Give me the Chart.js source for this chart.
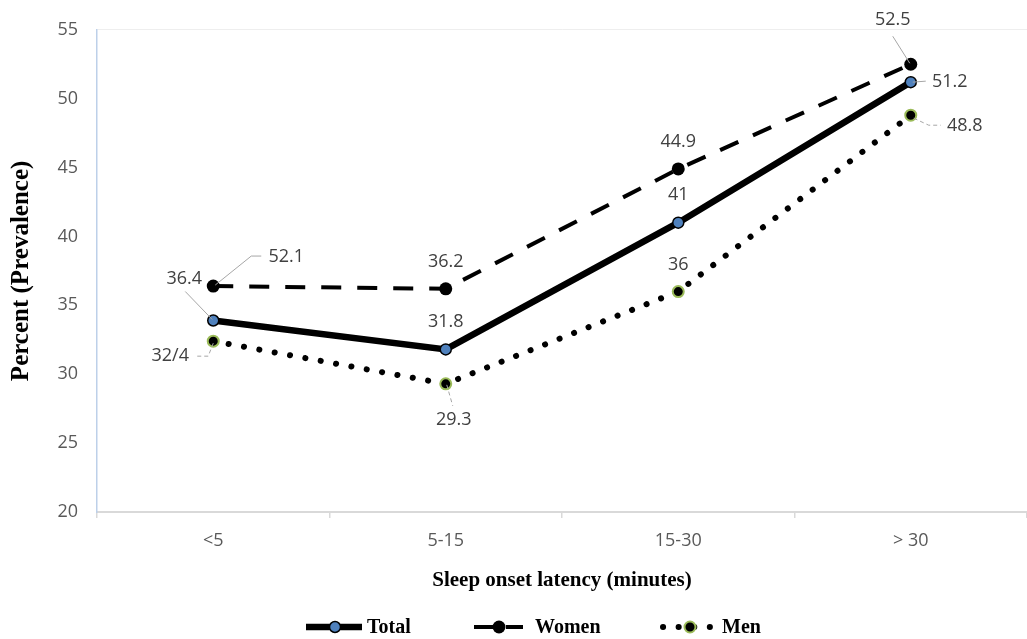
<!DOCTYPE html>
<html>
<head>
<meta charset="utf-8">
<script src="https://cdn.jsdelivr.net/npm/chart.js@4.4.1/dist/chart.umd.min.js"></script>
<style>
  html, body { margin: 0; padding: 0; background: #fff; }
  #myChart { display: block; }
</style>
</head>
<body>
<canvas id="myChart" width="1027" height="639"></canvas>
<script>
// data
var categories = ["<5", "5-15", "15-30", "> 30"];
var seriesNames = ["Total", "Women", "Men"];
var totalValues = [33.9, 31.8, 41, 51.2];
var womenValues = [36.4, 36.2, 44.9, 52.5];
var menValues = [32.4, 29.3, 36, 48.8];
// labels as printed on the chart (some don't match the point)
var totalLabels = ["36.4", "31.8", "41", "51.2"];
var womenLabels = ["52.1", "36.2", "44.9", "52.5"];
var menLabels = ["32/4", "29.3", "36", "48.8"];
var yTicks = [20, 25, 30, 35, 40, 45, 50, 55];

var tickFont = { family: "'Open Sans', sans-serif", size: 18 };
var serifBold = "'Liberation Serif', 'Times New Roman', serif";

// where each label sits relative to its point, plus leader lines
var labelSpots = [
  [ {dx:-29, dy:-42, lead:[[-28,-29],[-1,-1]]}, {dx:0, dy:-28}, {dx:0, dy:-28}, {dx:39, dy:0, lead:[[2,0],[15,-1]]} ],
  [ {dx:73, dy:-29, lead:[[2,-1],[38,-30],[48,-30]]}, {dx:0, dy:-27}, {dx:0, dy:-27}, {dx:-18, dy:-44, lead:[[-18,-28],[-1,-1]]} ],
  [ {dx:-43, dy:15, lead:[[-16,15],[-5,15],[0,2]], dash:true}, {dx:8, dy:36, lead:[[1,1],[7,22]], dash:true},
    {dx:0, dy:-27}, {dx:54, dy:11, lead:[[3,3],[18,10],[30,10]], dash:true} ]
];
var allLabels = [totalLabels, womenLabels, menLabels];

var pointLabels = {
  id: "pointLabels",
  afterDatasetsDraw: function(chart) {
    var ctx = chart.ctx;
    ctx.save();
    ctx.font = "18px 'Open Sans', sans-serif";
    ctx.fillStyle = "#404040";
    ctx.textAlign = "center";
    ctx.textBaseline = "middle";
    for (var i = 0; i < chart.data.datasets.length; i++) {
      var meta = chart.getDatasetMeta(i);
      meta.data.forEach(function(pt, j) {
        var s = labelSpots[i][j];
        if (s.lead) {
          ctx.beginPath();
          ctx.strokeStyle = "#a6a6a6";
          ctx.lineWidth = 1;
          ctx.setLineDash(s.dash ? [4, 3] : []);
          s.lead.forEach(function(p, k) {
            if (k == 0) ctx.moveTo(pt.x + p[0], pt.y + p[1]);
            else ctx.lineTo(pt.x + p[0], pt.y + p[1]);
          });
          ctx.stroke();
          ctx.setLineDash([]);
        }
        ctx.fillText(allLabels[i][j], pt.x + s.dx, pt.y + s.dy);
      });
    }
    ctx.restore();
  }
};

// legend drawn by hand so the line samples look like the original
var legendSpots = [
  { x1: 306, x2: 362, mx: 335, tx: 367 },
  { x1: 474, x2: 523, mx: 499, tx: 535 },
  { x1: 663, x2: 710, mx: 690, tx: 722 }
];
var bottomLegend = {
  id: "bottomLegend",
  afterDraw: function(chart) {
    var ctx = chart.ctx;
    var y = 627;
    ctx.save();
    chart.data.datasets.forEach(function(ds, i) {
      var L = legendSpots[i];
      ctx.beginPath();
      ctx.strokeStyle = ds.borderColor;
      ctx.lineWidth = ds.borderWidth;
      ctx.lineCap = ds.borderCapStyle || "butt";
      ctx.setLineDash(i == 1 ? [19, 13] : (ds.borderDash || []));
      ctx.moveTo(L.x1, y);
      ctx.lineTo(L.x2, y);
      ctx.stroke();
      ctx.setLineDash([]);
      ctx.beginPath();
      ctx.arc(L.mx, y, ds.pointRadius, 0, Math.PI * 2);
      ctx.fillStyle = ds.pointBackgroundColor;
      ctx.fill();
      if (ds.pointBorderWidth) {
        ctx.lineWidth = ds.pointBorderWidth;
        ctx.strokeStyle = ds.pointBorderColor;
        ctx.stroke();
      }
      ctx.fillStyle = "#000";
      ctx.font = "bold 20px " + serifBold;
      ctx.textAlign = "left";
      ctx.textBaseline = "middle";
      ctx.fillText(ds.label, L.tx, y + 1);
    });
    ctx.restore();
  }
};

new Chart("myChart", {
  type: "line",
  data: {
    labels: categories,
    datasets: [
      {
        label: seriesNames[0],
        data: totalValues,
        borderColor: "#000",
        borderWidth: 6.5,
        pointRadius: 5.5,
        pointBackgroundColor: "#4f81bd",
        pointBorderColor: "#000",
        pointBorderWidth: 1.5,
        tension: 0
      },
      {
        label: seriesNames[1],
        data: womenValues,
        borderColor: "#000",
        borderWidth: 4,
        borderDash: [20, 16],
        pointRadius: 6.5,
        pointBackgroundColor: "#000",
        pointBorderColor: "#000",
        pointBorderWidth: 0,
        tension: 0
      },
      {
        label: seriesNames[2],
        data: menValues,
        borderColor: "#000",
        borderWidth: 6,
        borderDash: [0.1, 15.5],
        borderCapStyle: "round",
        pointRadius: 5.5,
        pointBackgroundColor: "#000",
        pointBorderColor: "#9bbb59",
        pointBorderWidth: 2,
        tension: 0
      }
    ]
  },
  options: {
    responsive: false,
    animation: false,
    devicePixelRatio: 1,
    layout: { autoPadding: false, padding: { top: 23, right: 0, left: 0, bottom: 39 } },
    plugins: {
      legend: { display: false },
      tooltip: { enabled: false }
    },
    scales: {
      x: {
        offset: true,
        grid: { offset: true, drawOnChartArea: false, tickLength: 6, color: "#d9d9d9", lineWidth: 1.5 },
        border: { color: "#d9d9d9", width: 2 },
        ticks: { font: tickFont, color: "#595959", padding: 12 },
        title: {
          display: true,
          text: "Sleep onset latency (minutes)",
          color: "#000",
          font: { family: serifBold, size: 21, weight: "bold" },
          padding: { top: 0, bottom: 7 }
        },
        afterFit: function(s) { s.height = 88; }
      },
      y: {
        min: 20,
        max: 55,
        afterBuildTicks: function(s) { s.ticks = yTicks.map(function(v) { return { value: v }; }); },
        grid: {
          drawTicks: false,
          color: function(c) { return c.tick && c.tick.value == 55 ? "#eeeeee" : "rgba(0,0,0,0)"; }
        },
        border: { color: "#bdd0e9", width: 1.5 },
        ticks: { font: tickFont, color: "#595959", padding: 19 },
        title: {
          display: true,
          text: "Percent (Prevalence)",
          color: "#000",
          font: { family: serifBold, size: 25, weight: "bold" },
          padding: { top: 7, bottom: 0 }
        },
        afterFit: function(s) { s.width = 97; }
      }
    }
  },
  plugins: [pointLabels, bottomLegend]
});
</script>
</body>
</html>
